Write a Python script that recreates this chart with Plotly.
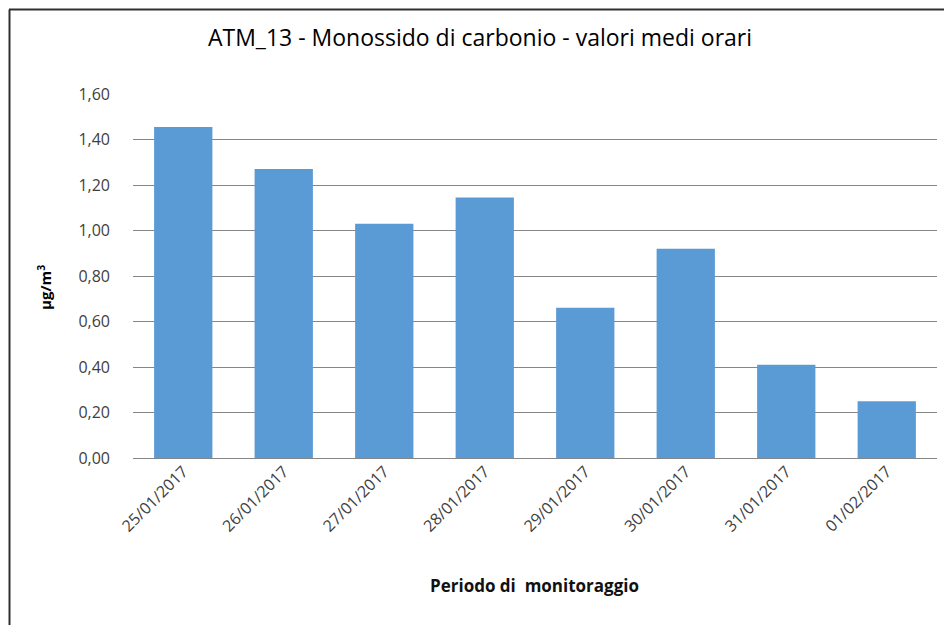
import plotly.graph_objects as go

# ── data ─────────────────────────────────────────────────────────────
dates = [
    "25/01/2017", "26/01/2017", "27/01/2017", "28/01/2017",
    "29/01/2017", "30/01/2017", "31/01/2017", "01/02/2017",
]
co_values = [1.455, 1.27, 1.03, 1.145, 0.66, 0.92, 0.41, 0.25]
y_ticks = [0.0, 0.2, 0.4, 0.6, 0.8, 1.0, 1.2, 1.4, 1.6]

_FONT = "Open Sans, Lato, sans-serif"
_TEXT = "#404040"
_BAR = "#5B9BD5"
_GRID = "#868686"

# the page body adds an 8px offset, so the figure is 8px smaller
W, H = 944, 617
L, R, T, B = 125, 15, 86, 167
PW, PH = W - L - R, H - T - B


def px_x(x):
    """figure pixel x -> paper x"""
    return (x - L) / PW


def px_y(y):
    """figure pixel y (from top) -> paper y"""
    return (H - B - y) / PH


fig = go.Figure(go.Bar(
    x=dates,
    y=co_values,
    marker_color=_BAR,
    marker_line_width=0,
    hovertemplate="%{x}<br>%{y:.2f}<extra></extra>",
))

fig.update_layout(
    width=W,
    height=H,
    paper_bgcolor="#FFFFFF",
    plot_bgcolor="#FFFFFF",
    margin=dict(l=L, r=R, t=T, b=B),
    font=dict(family=_FONT, color=_TEXT, size=15),
    separators=",.",
    bargap=0.42,
    showlegend=False,
    title=dict(
        text="ATM_13 - Monossido di carbonio - valori medi orari",
        x=0.5, xanchor="center", xref="container",
        y=1 - 30 / H, yanchor="middle",
        font=dict(size=23, color="#000000", family=_FONT),
    ),
    xaxis=dict(
        type="category",
        tickangle=-45,
        showgrid=False,
        zeroline=False,
        showline=False,
        ticks="",
        tickfont=dict(size=16, color=_TEXT),
    ),
    yaxis=dict(
        range=[0, 1.6],
        tickvals=y_ticks,
        tickformat=".2f",
        showgrid=True,
        gridcolor=_GRID,
        gridwidth=1,
        zeroline=True,
        zerolinecolor=_GRID,
        zerolinewidth=1,
        showline=False,
        ticks="",
        ticklabelstandoff=22,
        tickfont=dict(size=16, color=_TEXT),
    ),
    annotations=[
        dict(
            text="<b>μg/m<sup>3</sup></b>",
            x=px_x(36), y=px_y(280), xref="paper", yref="paper",
            xanchor="center", yanchor="middle",
            textangle=-90, showarrow=False,
            font=dict(size=15, color="#000000", family=_FONT),
        ),
        dict(
            text="<b>Periodo di  monitoraggio</b>",
            x=px_x(526), y=px_y(577), xref="paper", yref="paper",
            xanchor="center", yanchor="middle", showarrow=False,
            font=dict(size=17, color="#111111", family=_FONT),
        ),
    ],
    shapes=[
        # chart frame (cut off at right and bottom in the original)
        dict(type="line", xref="paper", yref="paper",
             x0=px_x(1), x1=px_x(W + 10), y0=px_y(1.5), y1=px_y(1.5),
             line=dict(color="#303030", width=2)),
        dict(type="line", xref="paper", yref="paper",
             x0=px_x(1.5), x1=px_x(1.5), y0=px_y(1.5), y1=px_y(H + 10),
             line=dict(color="#303030", width=2)),
    ],
)

fig.write_html("out.html")
